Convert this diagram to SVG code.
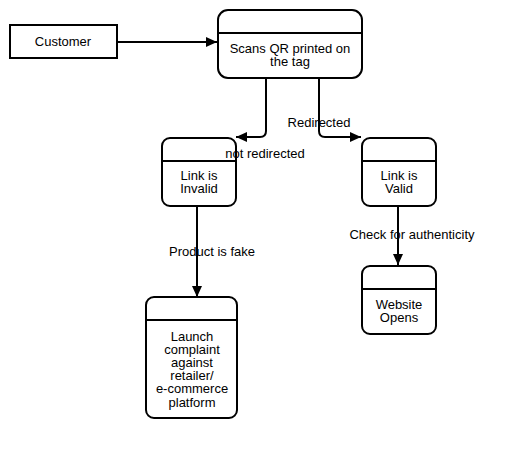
<svg xmlns="http://www.w3.org/2000/svg" width="514" height="458" viewBox="0 0 514 458">
<defs>
<style>
text{font-family:"Liberation Sans",Arial,sans-serif;font-size:13px;fill:#000;text-anchor:middle}
.box{fill:#fff;stroke:#000;stroke-width:2}
.ln{fill:none;stroke:#000;stroke-width:2}
</style>
<marker id="ah" viewBox="0 0 11 10" refX="11" refY="5" markerWidth="11" markerHeight="10" markerUnits="userSpaceOnUse" orient="auto">
<path d="M0,0 L11,5 L0,10 Z" fill="#000"/>
</marker>
</defs>
<rect width="514" height="458" fill="#fff"/>
<g id="connectors">
<path class="ln" d="M117,42 H217" marker-end="url(#ah)"/>
<path class="ln" d="M266,78 V131 Q266,137 260,137 H236" marker-end="url(#ah)"/>
<path class="ln" d="M319,78 V131 Q319,137 325,137 H361" marker-end="url(#ah)"/>
<path class="ln" d="M197,206 V297" marker-end="url(#ah)"/>
<path class="ln" d="M398,206 V265" marker-end="url(#ah)"/>
</g>
<g id="customer">
<rect class="box" x="10" y="25" width="107" height="33"/>
<text x="63" y="46">Customer</text>
</g>
<g id="scans">
<rect class="box" x="218" y="10" width="144" height="68" rx="10"/>
<line class="ln" x1="218" y1="33" x2="362" y2="33"/>
<text x="290" y="52.5">Scans QR printed on</text>
<text x="290" y="65.5">the tag</text>
</g>
<g id="invalid">
<rect class="box" x="162" y="138" width="74" height="68" rx="8"/>
<line class="ln" x1="162" y1="161" x2="236" y2="161"/>
<text x="199" y="179.5">Link is</text>
<text x="199" y="192.5">Invalid</text>
</g>
<g id="valid">
<rect class="box" x="362" y="138" width="74" height="68" rx="8"/>
<line class="ln" x1="362" y1="161" x2="436" y2="161"/>
<text x="399" y="179.5">Link is</text>
<text x="399" y="192.5">Valid</text>
</g>
<g id="website">
<rect class="box" x="362" y="266" width="74" height="68" rx="8"/>
<line class="ln" x1="362" y1="289" x2="436" y2="289"/>
<text x="399" y="308.5">Website</text>
<text x="399" y="321.5">Opens</text>
</g>
<g id="launch">
<rect class="box" x="146" y="297" width="91" height="121" rx="8"/>
<line class="ln" x1="146" y1="320" x2="237" y2="320"/>
<text x="192" y="340.5">Launch</text>
<text x="192" y="353.5">complaint</text>
<text x="192" y="366.5">against</text>
<text x="192" y="380">retailer/</text>
<text x="192" y="393">e-commerce</text>
<text x="192" y="406.5">platform</text>
</g>
<g id="connector-labels">
<text x="319" y="126.5">Redirected</text>
<text x="265" y="157.5">not redirected</text>
<text x="212" y="255.5">Product is fake</text>
<text x="412" y="238.5">Check for authenticity</text>
</g>
</svg>
